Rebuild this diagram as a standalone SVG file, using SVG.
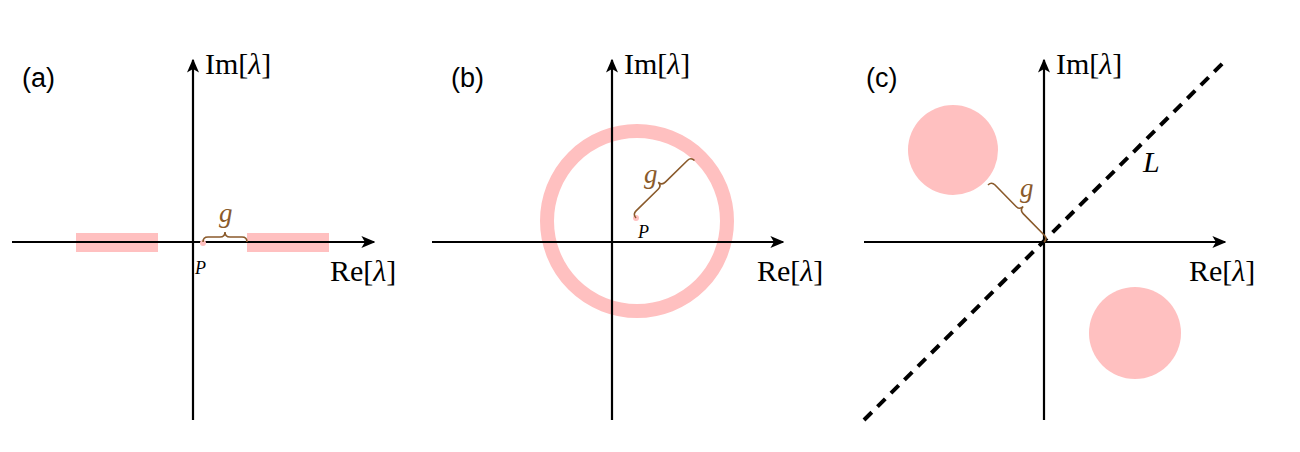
<svg xmlns="http://www.w3.org/2000/svg" width="1300" height="452" viewBox="0 0 1300 452">
<style>
.ax{stroke:#000;stroke-width:2.2;fill:none}
.br{stroke:#8a5a2b;stroke-width:1.6;fill:none}
.m{font-family:"Liberation Serif",serif;font-size:30px;fill:#000}
.i{font-style:italic}
.g{font-family:"Liberation Serif",serif;font-style:italic;font-size:27px;fill:#8a5a2b}
.p{font-family:"Liberation Serif",serif;font-style:italic;font-size:18px;fill:#000}
.lab{font-family:"Liberation Sans",Arial,sans-serif;font-size:27px;fill:#000}
.pk{fill:#ffc0c0}
</style>
<defs>
<marker id="ar" viewBox="0 0 10 10" refX="9" refY="5" markerWidth="14" markerHeight="12" markerUnits="userSpaceOnUse" orient="auto" preserveAspectRatio="none"><path d="M0,0 L10,5 L0,10 L2.5,5 z" fill="#000"/></marker>
</defs>
<rect width="1300" height="452" fill="#fff"/>
<g id="panelA">
<rect class="pk" x="76" y="233" width="82" height="19"/>
<rect class="pk" x="247" y="233" width="82" height="19"/>
<g class="connectors">
<line class="ax" x1="12" y1="242" x2="374" y2="242" marker-end="url(#ar)"/>
<line class="ax" x1="193" y1="420" x2="193" y2="60" marker-end="url(#ar)"/>
</g>
<circle class="pk" cx="203" cy="243" r="3"/>
<path class="br" d="M203,242 q0,-5 5,-5 h12 q5,0 5,-5 q0,5 5,5 h12 q5,0 5,5"/>
<text class="g" x="219" y="222">g</text>
<text class="p" x="195" y="274">P</text>
<text class="m" x="205" y="74">Im[<tspan class="i">λ</tspan>]</text>
<text class="m" x="330" y="281">Re[<tspan class="i">λ</tspan>]</text>
<text class="lab" x="22" y="87">(a)</text>
</g>
<g id="panelB">
<circle cx="637" cy="221" r="90" fill="none" stroke="#ffc0c0" stroke-width="14"/>
<g class="connectors">
<line class="ax" x1="432" y1="242" x2="783" y2="242" marker-end="url(#ar)"/>
<line class="ax" x1="612" y1="420" x2="612" y2="60" marker-end="url(#ar)"/>
</g>
<circle class="pk" cx="636" cy="218" r="3"/>
<path class="br" transform="translate(636,218) rotate(-44.5)" d="M0,0 q0,-5 5,-5 h31 q5,0 5,-5 q0,5 5,5 h31 q5,0 5,5"/>
<text class="g" x="644" y="183">g</text>
<text class="p" x="638" y="238">P</text>
<text class="m" x="624" y="74">Im[<tspan class="i">λ</tspan>]</text>
<text class="m" x="757" y="281">Re[<tspan class="i">λ</tspan>]</text>
<text class="lab" x="451" y="87">(b)</text>
</g>
<g id="panelC">
<circle class="pk" cx="953" cy="150" r="45"/>
<circle class="pk" cx="1135" cy="333" r="46"/>
<g class="connectors">
<line class="ax" x1="864" y1="242" x2="1225" y2="242" marker-end="url(#ar)"/>
<line class="ax" x1="1044" y1="420" x2="1044" y2="60" marker-end="url(#ar)"/>
<line x1="864" y1="420" x2="1224" y2="62" stroke="#000" stroke-width="4" stroke-dasharray="11,8"/>
</g>
<path class="br" transform="translate(988,185) rotate(45.5)" d="M0,0 q0,-5 5,-5 h30 q5,0 5,-5 q0,5 5,5 h30 q5,0 5,5"/>
<text class="g" x="1020" y="197">g</text>
<text class="m i" x="1143" y="172">L</text>
<text class="m" x="1056" y="74">Im[<tspan class="i">λ</tspan>]</text>
<text class="m" x="1189" y="281">Re[<tspan class="i">λ</tspan>]</text>
<text class="lab" x="866" y="87">(c)</text>
</g>
</svg>
